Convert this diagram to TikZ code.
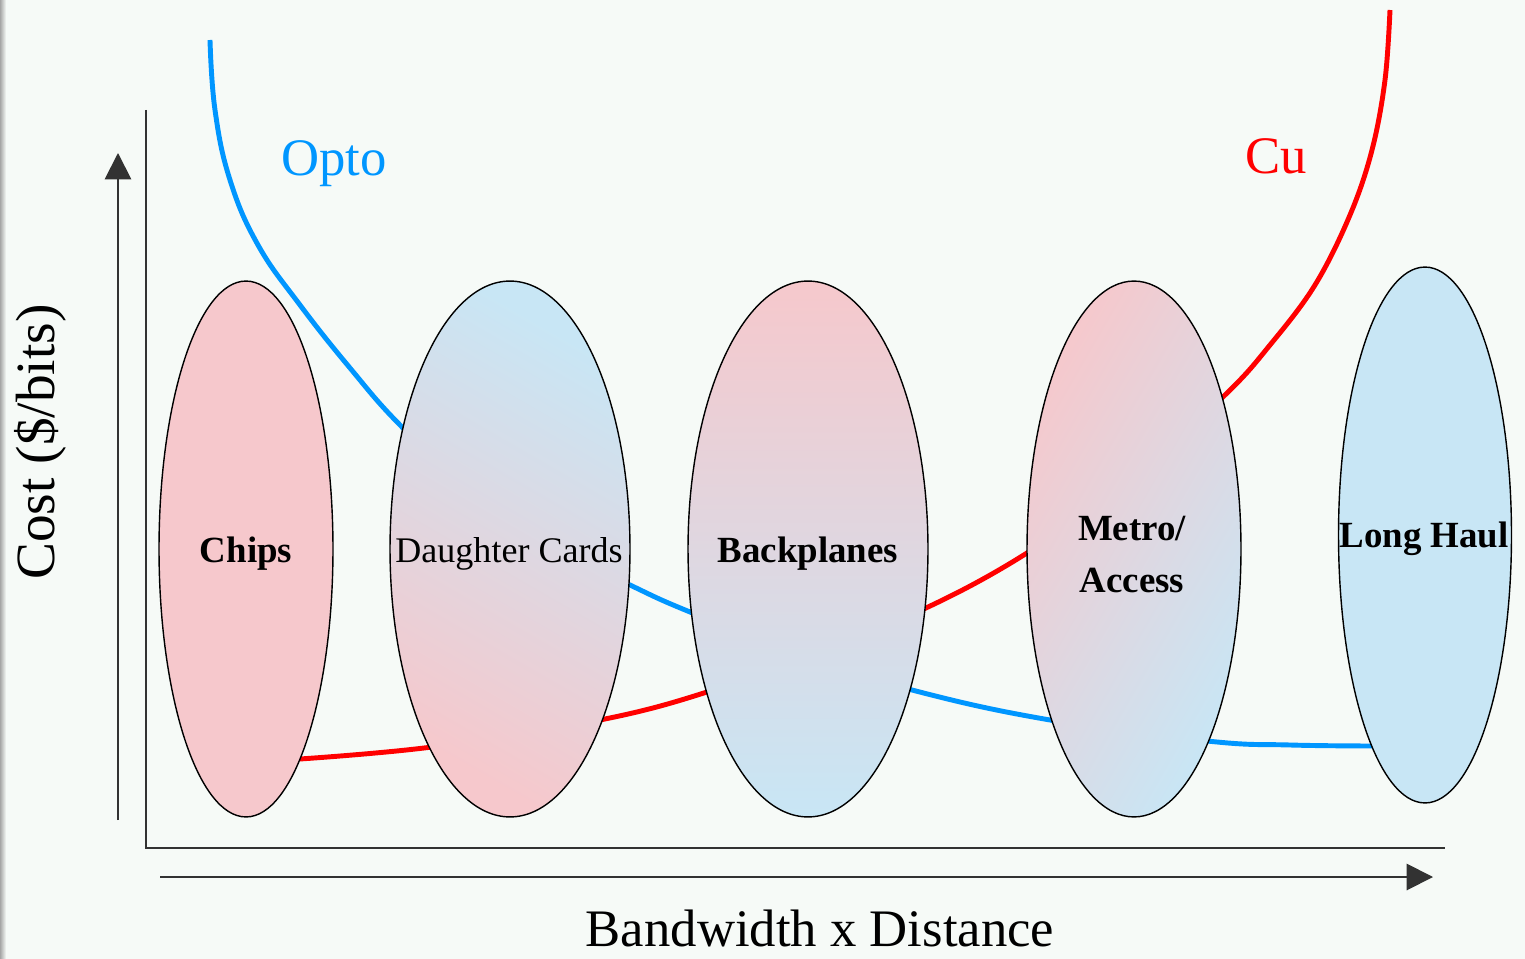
\documentclass[tikz,border=0pt]{standalone}
\usepackage{fontspec}
\setmainfont{Liberation Serif}
\usepackage{tikz}
\usetikzlibrary{shapes.geometric,arrows.meta}

\definecolor{bgcol}{RGB}{246,250,247}
\definecolor{pinkfill}{RGB}{246,200,204}
\definecolor{bluefill}{RGB}{200,230,245}
\definecolor{optoblue}{RGB}{0,150,255}
\definecolor{cured}{RGB}{255,0,0}
\definecolor{axisgray}{RGB}{50,50,50}

\begin{document}
\begin{tikzpicture}[x=0.02cm, y=-0.02cm]
    \tikzstyle{market}=[ellipse, draw=black, line width=0.8pt, inner sep=0pt, minimum height=10.72cm]
    \tikzstyle{axis line}=[draw=axisgray, line width=1.1pt]
    \tikzstyle{axis arrow}=[axis line, -{Triangle[width=15pt,length=15pt]}]
    \tikzstyle{curve}=[line width=2.8pt, line join=round]
    \tikzstyle{bold label}=[font=\fontsize{21}{29.6}\selectfont\bfseries, align=center]
    \tikzstyle{big label}=[font=\fontsize{30}{34}\selectfont]

    % background
    \fill[bgcol] (0,0) rectangle (1525,959);
    \shade[left color=black!35, right color=bgcol] (0,0) rectangle (6,959);
    \useasboundingbox (0,0) rectangle (1525,959);

    % Draw the axes
    \coordinate (O) at (146,848);
    \coordinate (Ytop) at (146,110);
    \coordinate (Xend) at (1445,848);
    \draw[axis line] (Ytop) -- (O) -- (Xend);
    \coordinate (ya) at (118,820);
    \coordinate (yb) at (118,153);
    \coordinate (xa) at (160,877);
    \coordinate (xb) at (1433,877);
    \draw[axis arrow] (ya) -- (yb);
    \draw[axis arrow] (xa) -- (xb);

    % cost curves (behind the ellipses)
    \draw[curve, optoblue] plot[smooth, tension=0.7] coordinates {(210,40) (215,110) (230,180) (258,245) (300,305) (350,368) (400,425) (470,490) (550,545) (630,585) (690,612) (800,655) (912,690) (1050,720) (1207,741) (1290,745) (1375,746)};
    \draw[curve, cured] plot[smooth, tension=0.6] coordinates {(300,759) (432,747) (600,720) (707,692) (820,650) (928,607) (1027,553) (1130,480) (1225,395) (1270,345) (1315,285) (1350,215) (1372,150) (1385,80) (1390,10)};

    % Draw the application ellipses
    \node[market, minimum width=3.48cm, fill=pinkfill] (chips) at (246,549) {};
    \node[market, minimum width=4.8cm, top color=bluefill, bottom color=pinkfill, shading angle=-30] (daughter) at (510,549) {};
    \node[market, minimum width=4.8cm, top color=pinkfill, bottom color=bluefill] (backplanes) at (808,549) {};
    \node[market, minimum width=4.28cm, left color=pinkfill, right color=bluefill, shading angle=60] (metro) at (1134,549) {};
    \node[market, minimum width=3.46cm, fill=bluefill] (longhaul) at (1425,535) {};

    % Annotate the ellipses
    \node[bold label] (chipsT) at (246,554) {Chips};
    \node[font=\fontsize{20.5}{24}\selectfont] (daughterT) at (509,554) {Daughter Cards};
    \node[bold label] (backplanesT) at (808,554) {Backplanes};
    \node[bold label] (metroT) at (1132,555) {Metro/\\Access};
    \node[bold label] (longhaulT) at (1424,539) {Long Haul};

    % curve names and axis titles
    \node[big label, text=optoblue] (opto) at (334,164) {Opto};
    \node[big label, text=cured] (cu) at (1276,156) {Cu};
    \node[big label] (xlabel) at (820,928) {Bandwidth x Distance};
    \node[font=\fontsize{31.5}{34}\selectfont, rotate=90] (ylabel) at (40,442) {Cost (\$/bits)};
\end{tikzpicture}
\end{document}
